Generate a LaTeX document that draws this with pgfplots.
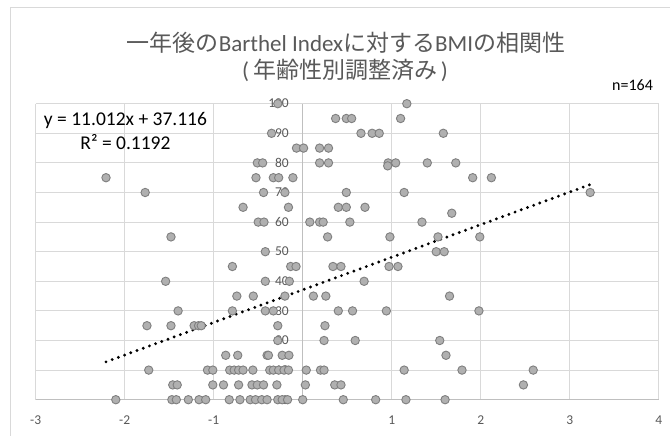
\documentclass[border=0pt]{standalone}
\usepackage{fontspec}
\setmainfont{Carlito}
\newfontfamily\cjk{Noto Sans CJK JP}
\usepackage{pgfplots}
\usepackage{pgfplotstable}
\pgfplotsset{compat=1.18}
\definecolor{txt}{HTML}{595959}
\definecolor{gridc}{HTML}{D9D9D9}
\definecolor{axc}{HTML}{BFBFBF}
\definecolor{mfill}{HTML}{B0B0B0}
\definecolor{mdraw}{HTML}{7F7F7F}
\pgfplotstableread{
x y
-0.28 100
1.17 100
0.37 95
0.49 95
0.55 95
1.10 95
-0.35 90
0.655 90
0.78 90
0.86 90
1.58 90
-0.07 85
0.01 85
0.19 85
0.29 85
-0.51 80
-0.45 80
0.19 80
0.29 80
0.96 80
1.045 80
1.40 80
1.72 80
0.955 79
-2.21 75
-0.525 75
-0.33 75
-0.27 75
-0.11 75
1.91 75
2.12 75
-1.77 70
-0.44 70
-0.20 70
0.49 70
1.14 70
3.23 70
-0.67 65
-0.16 65
0.40 65
0.49 65
0.70 65
1.675 63
-0.50 60
-0.435 60
0.08 60
0.19 60
0.23 60
0.53 60
1.34 60
-1.48 55
0.28 55
0.98 55
1.52 55
1.99 55
-0.42 50
1.50 50
1.59 50
-0.79 45
-0.135 45
-0.075 45
0.34 45
0.43 45
0.97 45
1.07 45
-1.54 40
-0.42 40
-0.15 40
0.69 40
-0.74 35
-0.555 35
-0.20 35
0.12 35
0.26 35
1.65 35
-1.40 30
-0.79 30
-0.42 30
-0.33 30
0.40 30
0.56 30
0.94 30
1.98 30
-1.75 25
-1.48 25
-1.22 25
-1.17 25
-1.14 25
-0.28 25
0.25 25
-0.28 20
0.24 20
0.59 20
1.54 20
-0.865 15
-0.73 15
-0.40 15
-0.385 15
-0.23 15
-0.155 15
1.61 15
-1.73 10
-1.07 10
-1.01 10
-0.82 10
-0.77 10
-0.72 10
-0.67 10
-0.56 10
-0.37 10
-0.33 10
-0.27 10
-0.21 10
-0.16 10
0.04 10
0.20 10
0.24 10
1.14 10
1.79 10
2.59 10
-1.46 5
-1.41 5
-1.01 5
-0.89 5
-0.72 5
-0.57 5
-0.51 5
-0.44 5
-0.29 5
0.03 5
0.36 5
0.43 5
2.48 5
-2.10 0
-1.47 0
-1.42 0
-1.285 0
-1.165 0
-1.09 0
-0.825 0
-0.705 0
-0.59 0
-0.53 0
-0.46 0
-0.40 0
-0.28 0
-0.23 0
-0.17 0
0.00 0
0.456 0
0.82 0
1.16 0
1.60 0
}\bmidata
\begin{document}
\begin{tikzpicture}
\useasboundingbox (0,0) rectangle (670bp,436bp);
\fill[white] (0,0) rectangle (670bp,436bp);
\draw[gridc, line width=1bp] (10.5bp,-5bp) -- (10.5bp,428.5bp) -- (680bp,428.5bp);
\node[anchor=base, font=\fontsize{23bp}{27bp}\selectfont, text=txt, inner sep=0pt] at (346bp,384.5bp) {{\cjk 一年後の}Barthel Index{\cjk に対する}BMI{\cjk の相関性}};
\node[anchor=base, font=\fontsize{23bp}{27bp}\selectfont, text=txt, inner sep=0pt] at (345bp,357.5bp) {(\,{\cjk 年齢性別調整済み}\,)};
\node[anchor=base west, font=\fontsize{16bp}{19bp}\selectfont, inner sep=0pt] at (612bp,345bp) {n=164};
\begin{axis}[
 scale only axis, width=623bp, height=296bp,
 at={(35.7bp,36.3bp)}, anchor=south west,
 xmin=-3, xmax=4, ymin=0, ymax=100,
 axis lines=middle, axis line style={axc, line width=1.3bp, -},
 xtick={-3,-2,-1,0,1,2,3,4}, ytick={0,10,...,100}, yticklabels={},
 grid=major, major grid style={gridc, line width=1bp},
 major tick length=0pt,
 tick label style={font=\fontsize{13.5bp}{16bp}\selectfont, text=txt, inner sep=0pt},
 /pgf/number format/assume math mode=true,
 xticklabel style={anchor=base, yshift=-24.8bp},
 clip=false,
]
\addplot[only marks, mark=*, mark size=4.2bp, mark options={fill=mfill, draw=mdraw, line width=0.9bp}] table {\bmidata};
\pgfplotsinvokeforeach{0,10,20,30,40,50,60,70,80,90,100}{
 \node[anchor=base east, font=\fontsize{13.5bp}{16bp}\selectfont, text=txt, inner sep=0pt, xshift=-13.7bp, yshift=-4.3bp] at (axis cs:0,#1) {#1};
}
\addplot[black, line width=3.2bp, line cap=round, dash pattern=on 0bp off 6.6bp] coordinates {(-2.21,12.78) (3.23,72.68)};
\end{axis}
\node[anchor=base, font=\fontsize{19.5bp}{23bp}\selectfont, inner sep=0pt] at (125.5bp,310.3bp) {y = 11.012x + 37.116};
\node[anchor=base, font=\fontsize{19.5bp}{23bp}\selectfont, inner sep=0pt] at (125.5bp,286bp) {R² = 0.1192};
\end{tikzpicture}
\end{document}
